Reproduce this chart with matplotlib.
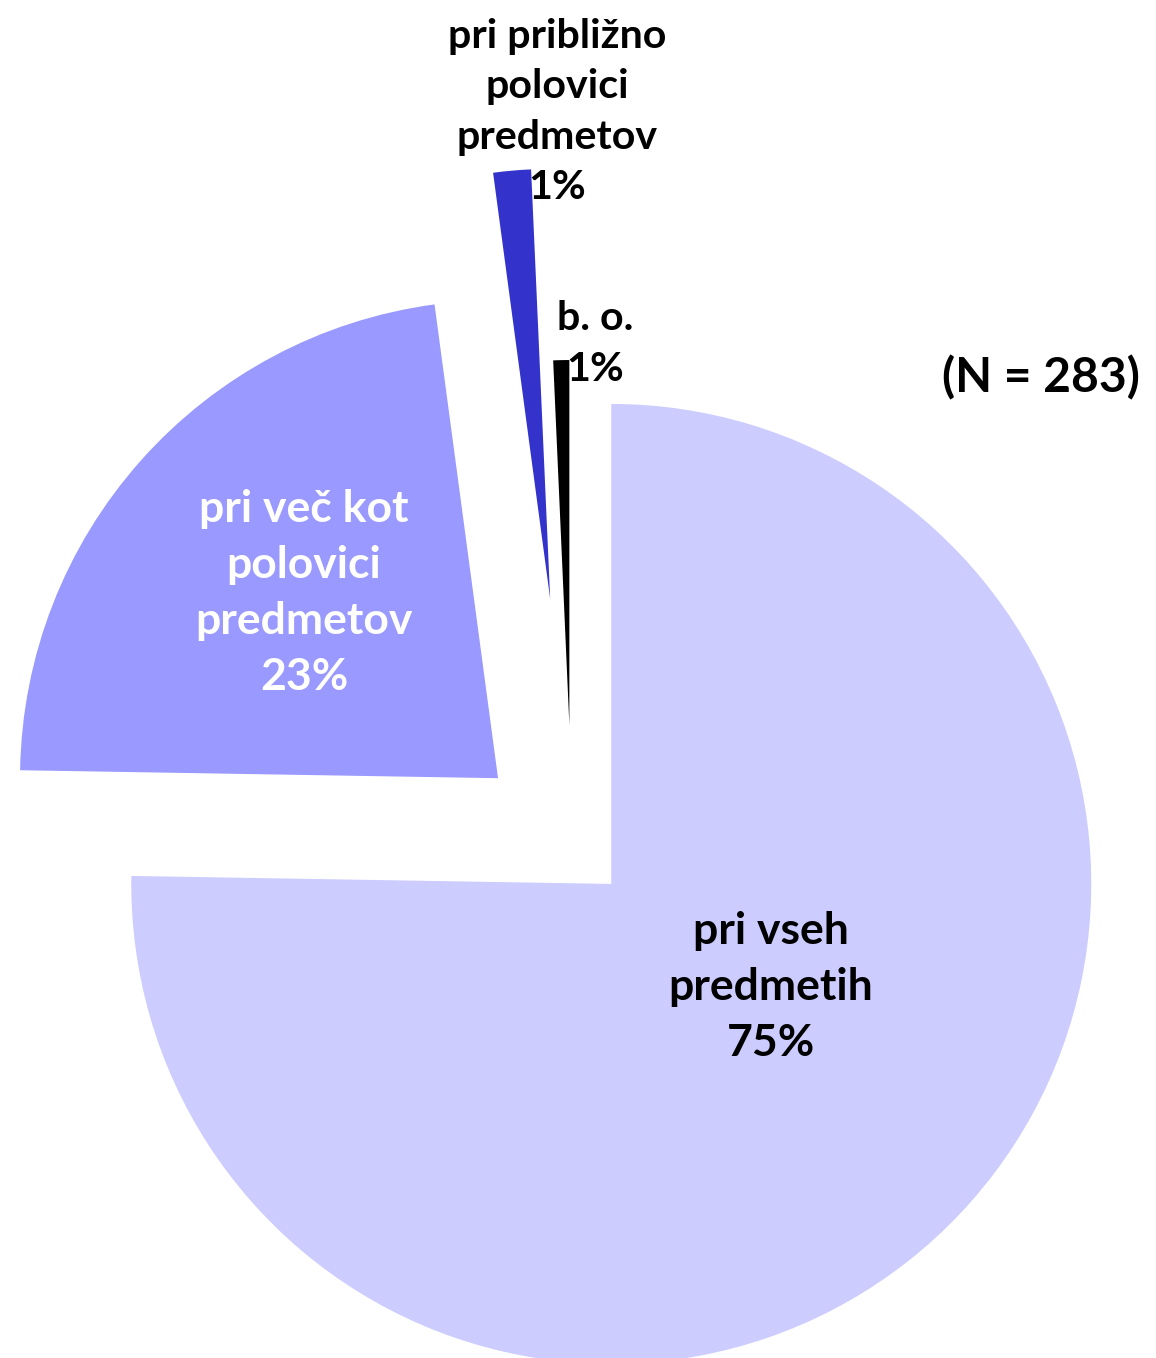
import matplotlib
matplotlib.use("Agg")
import matplotlib.pyplot as plt

# counts of answers (N = 283), order: clockwise from 12 o'clock
labels = ["pri vseh\npredmetih", "pri več kot\npolovici\npredmetov",
          "pri približno\npolovici\npredmetov", "b. o."]
counts = [213, 64, 4, 2]
n_total = 283
colors = ["#CCCCFF", "#9999FF", "#3333CC", "#000000"]
text_colors = ["black", "white", "black", "black"]
explode = [56, 99, 246, 119]   # pixels, pie explode is absolute
radii = [480, 478, 430, 365]

# label anchor points (pixel coords, y up) and font sizes
label_pos = [(771, 371), (304, 765), (557, 1246), (595, 1014)]
label_size = [32, 32, 29.6, 29.6]
label_spacing = [1.49, 1.49, 1.44, 1.44]

plt.rcParams["font.family"] = ["Lato", "DejaVu Sans"]

fig = plt.figure(figsize=(11.56, 13.58), dpi=100)
ax = fig.add_axes([0, 0, 1, 1])

wedges, _ = ax.pie(counts, explode=explode, colors=colors, startangle=90,
                   counterclock=False, radius=480, center=(572, 514),
                   wedgeprops=dict(linewidth=0))
for w, r in zip(wedges, radii):
    w.set_radius(r)

for lab, c, pos, fs, ls, tc in zip(labels, counts, label_pos, label_size,
                                    label_spacing, text_colors):
    pct = round(100 * c / n_total)
    ax.text(pos[0], pos[1], f"{lab}\n{pct}%", ha="center", va="center",
            fontsize=fs, fontweight="bold", color=tc, linespacing=ls)

ax.text(1041, 980, f"(N = {n_total})", ha="center", va="center",
        fontsize=34.6, fontweight="bold")

ax.set_xlim(0, 1156)
ax.set_ylim(0, 1358)
ax.set_aspect("equal")
ax.axis("off")

fig.savefig("out.png", dpi=100)
